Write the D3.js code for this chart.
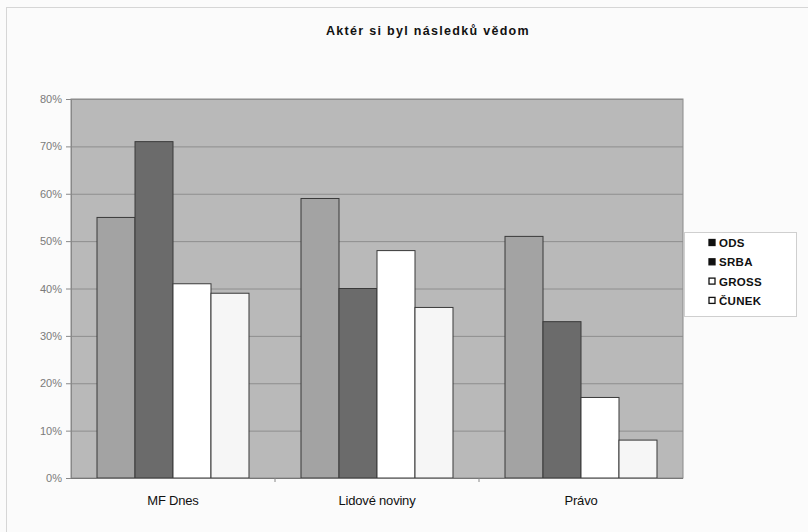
<!DOCTYPE html>
<html><head><meta charset="utf-8">
<script src="https://cdn.jsdelivr.net/npm/d3@7"></script>
<style>body{margin:0;background:#fbfbfb;}svg{display:block;font-family:Arial,"Liberation Sans",sans-serif;}</style>
</head><body>
<svg id="c" width="808" height="532"></svg>
<script>
const title = "Aktér si byl následků vědom";
const categories = ["MF Dnes", "Lidové noviny", "Právo"];
const seriesNames = ["ODS", "SRBA", "GROSS", "ČUNEK"];
const ods   = [55, 59, 51];
const srba  = [71, 40, 33];
const gross = [41, 48, 17];
const cunek = [39, 36, 8];
const yTicks = [0, 10, 20, 30, 40, 50, 60, 70, 80];

const seriesValues = [ods, srba, gross, cunek];
const fills = ["#a3a3a3", "#6b6b6b", "#ffffff", "#f6f6f6"];
const legendFills = ["#111", "#111", "#fff", "#fff"];

const svg = d3.select("#c");
svg.append("rect").attr("x", 6.5).attr("y", 7.5).attr("width", 808).attr("height", 540)
  .attr("fill", "#fbfbfb").attr("stroke", "#d6d6d6");

const L = 71, R = 683, T = 99, B = 478;
const x0 = d3.scaleBand().domain(categories).range([L, R]).paddingInner(0.255).paddingOuter(0.1275);
const x1 = d3.scaleBand().domain(seriesNames).range([0, x0.bandwidth()]);
const y = d3.scaleLinear().domain([0, 80]).range([B, T]);

svg.append("text").attr("x", 428).attr("y", 35).attr("text-anchor", "middle")
  .attr("font-size", 12.5).attr("font-weight", "bold").attr("letter-spacing", 1.3).attr("fill", "#111").text(title);

svg.append("rect").attr("x", L).attr("y", T).attr("width", R - L).attr("height", B - T)
  .attr("fill", "#b9b9b9").attr("stroke", "#8a8a8a");

svg.append("g").selectAll("line").data(yTicks.slice(1)).join("line")
  .attr("x1", L).attr("x2", R).attr("y1", d => y(d) + 0.5).attr("y2", d => y(d) + 0.5)
  .attr("stroke", "#8e8e8e").attr("stroke-width", 1);

const yAxis = svg.append("g").attr("transform", `translate(${L},0)`)
  .call(d3.axisLeft(y).tickValues(yTicks).tickFormat(d => d + "%").tickSize(5).tickPadding(4));
yAxis.select(".domain").attr("stroke", "#888");
yAxis.selectAll(".tick line").attr("stroke", "#888");
yAxis.selectAll(".tick text").attr("font-size", 11).attr("fill", "#7a7a7a").attr("font-family", "Arial, 'Liberation Sans', sans-serif");

const groups = svg.append("g").selectAll("g").data(categories).join("g")
  .attr("transform", d => `translate(${x0(d)},0)`);
groups.selectAll("rect").data((d, ci) => seriesNames.map((s, si) => ({ s, si, v: seriesValues[si][ci] })))
  .join("rect")
  .attr("x", d => x1(d.s)).attr("width", x1.bandwidth())
  .attr("y", d => y(d.v)).attr("height", d => B - y(d.v))
  .attr("fill", d => fills[d.si]).attr("stroke", "#3a3a3a").attr("stroke-width", 1);

svg.append("line").attr("x1", L).attr("x2", R).attr("y1", B + 0.5).attr("y2", B + 0.5).attr("stroke", "#777");
svg.append("g").selectAll("line").data(categories.slice(1)).join("line")
  .attr("x1", d => x0(d) - x0.step() * x0.paddingInner() / 2).attr("x2", d => x0(d) - x0.step() * x0.paddingInner() / 2)
  .attr("y1", B).attr("y2", B + 4).attr("stroke", "#888");

svg.append("g").selectAll("text").data(categories).join("text")
  .attr("x", d => x0(d) + x0.bandwidth() / 2).attr("y", 505).attr("text-anchor", "middle")
  .attr("font-size", 13).attr("fill", "#111").attr("letter-spacing", -0.2).text(d => d);

const lg = svg.append("g");
lg.append("rect").attr("x", 684.5).attr("y", 232.5).attr("width", 112).attr("height", 84)
  .attr("fill", "#ffffff").attr("stroke", "#cfcfcf");
const li = lg.selectAll("g").data(seriesNames).join("g")
  .attr("transform", (d, i) => `translate(709,${243 + i * 19.3})`);
li.append("rect").attr("x", 0).attr("y", -3.5).attr("width", 6).attr("height", 6)
  .attr("fill", (d, i) => legendFills[i]).attr("stroke", "#111").attr("stroke-width", 1.3);
li.append("text").attr("x", 10).attr("y", 4).attr("font-size", 11.5).attr("font-weight", "bold").attr("fill", "#111")
  .attr("letter-spacing", 0.3).text(d => d);
</script>
</body></html>
